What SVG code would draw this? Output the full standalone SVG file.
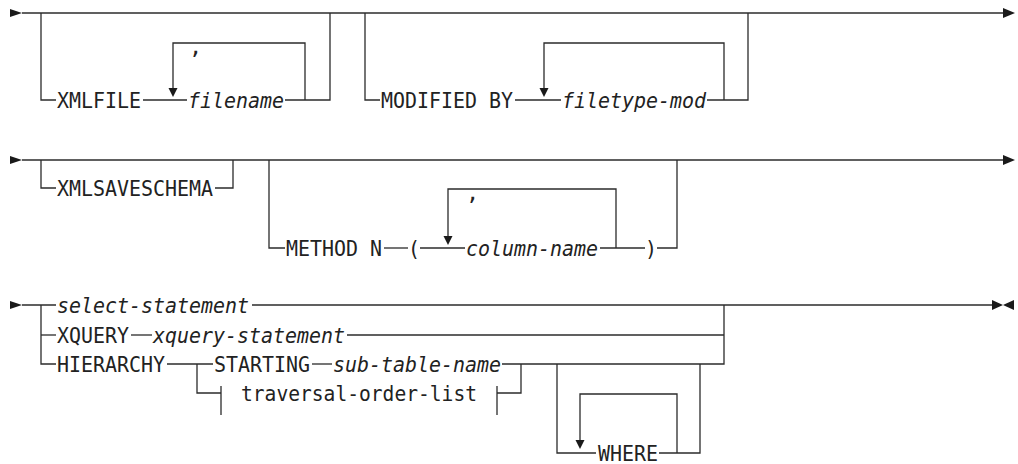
<svg xmlns="http://www.w3.org/2000/svg" width="1018" height="464" viewBox="0 0 1018 464">
<style>
.ln{fill:none;stroke:#2b2b2b;stroke-width:1.3}
.ah{fill:#1a1a1a;stroke:none}
.t{font-family:"DejaVu Sans Mono","Liberation Mono",monospace;font-size:22px;fill:#222}
.i{font-style:italic}
</style>
<rect width="1018" height="464" fill="#fff"/>
<g id="connectors">
  <path class="ln" d="M22,13 H1003"/>
  <path class="ln" d="M41,13 V100 H56"/>
  <path class="ln" d="M143,100 H187"/>
  <path class="ln" d="M285,100 H330 V13"/>
  <path class="ln" d="M173,92 V43 H305 V100"/>
  <path class="ln" d="M365,13 V100 H380"/>
  <path class="ln" d="M515,100 H561"/>
  <path class="ln" d="M707,100 H748 V13"/>
  <path class="ln" d="M544,92 V43 H724 V100"/>
  <path class="ln" d="M22,160 H1003"/>
  <path class="ln" d="M41,160 V188 H56"/>
  <path class="ln" d="M215,188 H233 V160"/>
  <path class="ln" d="M269,160 V248 H285"/>
  <path class="ln" d="M384,248 H408"/>
  <path class="ln" d="M420,248 H465"/>
  <path class="ln" d="M600,248 H645"/>
  <path class="ln" d="M657,248 H677 V160"/>
  <path class="ln" d="M448,240 V189 H616 V248"/>
  <path class="ln" d="M22,305 H56"/>
  <path class="ln" d="M41,305 V364 H56"/>
  <path class="ln" d="M41,335 H56"/>
  <path class="ln" d="M252,305 H992"/>
  <path class="ln" d="M131,335 H152"/>
  <path class="ln" d="M347,335 H724"/>
  <path class="ln" d="M167,364 H213"/>
  <path class="ln" d="M197,364 V393 H221"/>
  <path class="ln" d="M221,386 V415"/>
  <path class="ln" d="M497,386 V415"/>
  <path class="ln" d="M497,393 H521 V364"/>
  <path class="ln" d="M312,364 H332"/>
  <path class="ln" d="M502,364 H724 V305"/>
  <path class="ln" d="M557,364 V453 H596"/>
  <path class="ln" d="M659,453 H700 V364"/>
  <path class="ln" d="M580,441 V394 H677 V453"/>
  <path class="ah" d="M10,9 L10,17 L22,13 Z"/>
  <path class="ah" d="M1003,8 L1003,18 L1015,13 Z"/>
  <path class="ah" d="M10,156 L10,164 L22,160 Z"/>
  <path class="ah" d="M1003,155 L1003,165 L1015,160 Z"/>
  <path class="ah" d="M10,301 L10,309 L22,305 Z"/>
  <path class="ah" d="M992,300 L992,310 L1003,305 Z"/>
  <path class="ah" d="M1014,300 L1014,310 L1003,305 Z"/>
  <path class="ah" d="M168.5,88 L177.5,88 L173,97 Z"/>
  <path class="ah" d="M539.5,88 L548.5,88 L544,97 Z"/>
  <path class="ah" d="M443.5,236 L452.5,236 L448,245 Z"/>
  <path class="ah" d="M575.5,440 L584.5,440 L580,449 Z"/>
</g>
<g id="n-xmlfile"><text class="t" x="57" y="108" textLength="84" lengthAdjust="spacingAndGlyphs">XMLFILE</text></g>
<g id="n-filename"><text class="t i" x="188" y="108" textLength="96" lengthAdjust="spacingAndGlyphs">filename</text></g>
<g id="n-comma1"><text class="t" x="189" y="54">,</text></g>
<g id="n-modifiedby"><text class="t" x="381" y="108" textLength="132" lengthAdjust="spacingAndGlyphs">MODIFIED BY</text></g>
<g id="n-filetypemod"><text class="t i" x="562" y="108" textLength="144" lengthAdjust="spacingAndGlyphs">filetype-mod</text></g>
<g id="n-xmlsaveschema"><text class="t" x="57" y="196" textLength="156" lengthAdjust="spacingAndGlyphs">XMLSAVESCHEMA</text></g>
<g id="n-methodn"><text class="t" x="286" y="256" textLength="96" lengthAdjust="spacingAndGlyphs">METHOD N</text></g>
<g id="n-lparen"><text class="t" x="408" y="256" textLength="12" lengthAdjust="spacingAndGlyphs">(</text></g>
<g id="n-comma2"><text class="t" x="466" y="200">,</text></g>
<g id="n-columnname"><text class="t i" x="466" y="256" textLength="132" lengthAdjust="spacingAndGlyphs">column-name</text></g>
<g id="n-rparen"><text class="t" x="645" y="256" textLength="12" lengthAdjust="spacingAndGlyphs">)</text></g>
<g id="n-select"><text class="t i" x="57" y="313" textLength="192" lengthAdjust="spacingAndGlyphs">select-statement</text></g>
<g id="n-xquery"><text class="t" x="57" y="343" textLength="72" lengthAdjust="spacingAndGlyphs">XQUERY</text></g>
<g id="n-xquerystmt"><text class="t i" x="153" y="343" textLength="192" lengthAdjust="spacingAndGlyphs">xquery-statement</text></g>
<g id="n-hierarchy"><text class="t" x="57" y="372" textLength="108" lengthAdjust="spacingAndGlyphs">HIERARCHY</text></g>
<g id="n-starting"><text class="t" x="214" y="372" textLength="96" lengthAdjust="spacingAndGlyphs">STARTING</text></g>
<g id="n-subtable"><text class="t i" x="333" y="372" textLength="168" lengthAdjust="spacingAndGlyphs">sub-table-name</text></g>
<g id="n-traversal"><text class="t" x="241" y="401" textLength="236" lengthAdjust="spacingAndGlyphs">traversal-order-list</text></g>
<g id="n-where"><text class="t" x="598" y="461" textLength="60" lengthAdjust="spacingAndGlyphs">WHERE</text></g>
</svg>
